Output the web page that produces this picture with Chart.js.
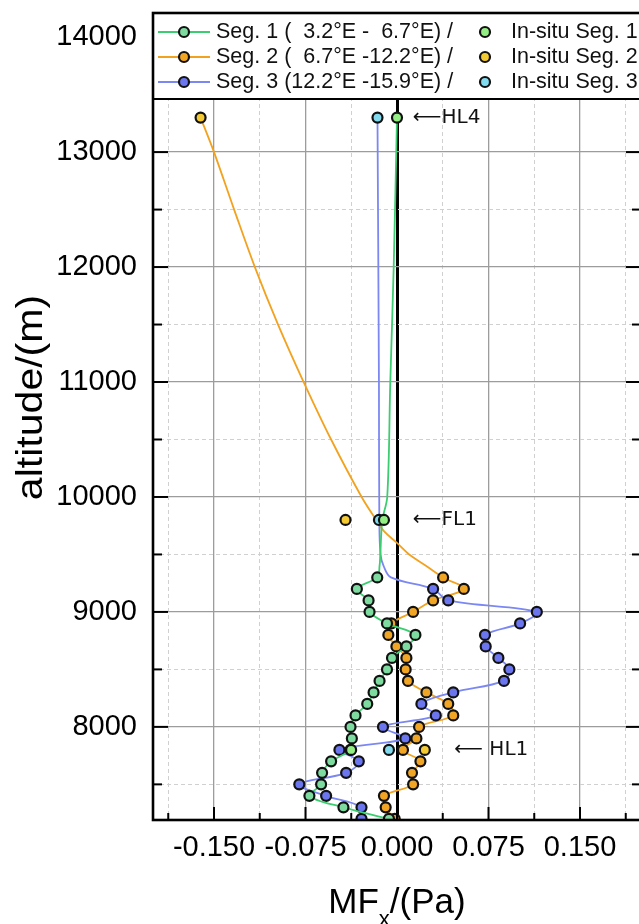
<!DOCTYPE html>
<html><head><meta charset="utf-8">
<script src="https://cdn.jsdelivr.net/npm/chart.js@4.4.1/dist/chart.umd.min.js"></script>
<style>
html,body{margin:0;padding:0;background:#fff;overflow:hidden;width:639px;height:924px}
#wrap{position:absolute;left:0;top:0;width:650px;height:924px}
</style>
</head><body><div id="wrap"><canvas id="c" width="650" height="924"></canvas></div>
<script>
// ---- data ----
const lowAlt = [7200,7300,7400,7500,7600,7700,7800,7900,8000,8100,8200,8300,8400,8500,8600,8700,8800,8900,9000,9100,9200,9300];
const seg1Low = [-0.0066,-0.0439,-0.0718,-0.0622,-0.0614,-0.0540,-0.0381,-0.0370,-0.0381,-0.0340,-0.0244,-0.0192,-0.0143,-0.0082,-0.0041,0.0077,0.0151,-0.0082,-0.0225,-0.0233,-0.0329,-0.0162];
const seg2Low = [-0.0019,-0.0093,-0.0107,0.0132,0.0123,0.0192,0.0049,0.0159,0.0181,0.0461,0.0420,0.0241,0.0090,0.0071,0.0077,-0.0005,-0.0071,-0.0046,0.0132,0.0296,0.0548,0.0378];
const seg3Low = [-0.0291,-0.0291,-0.0581,-0.0801,-0.0417,-0.0313,-0.0472,0.0068,-0.0115,0.0318,0.0200,0.0461,0.0877,0.0921,0.0831,0.0727,0.0721,0.1009,0.1146,0.0420,0.0296];
// upper part of each profile (curve only, no markers)
const seg1UpAlt = [9400,9500,9800,10000,11000,12000,13300];
const seg1Up = [-0.0143,-0.0137,-0.0120,-0.0080,-0.0055,-0.0027,0.0000];
const seg2UpAlt = [9400,9500,9600,9700,9800,10000,10500,11000,11500,12000,12500,13000,13300];
const seg2Up = [0.0240,0.0100,0.0000,-0.0105,-0.0170,-0.0290,-0.0540,-0.0765,-0.0975,-0.1165,-0.1335,-0.1500,-0.1610];
const seg3UpAlt = [9300,9400,9500,9800,11000,13300];
const seg3Up = [-0.0050,-0.0110,-0.0135,-0.0145,-0.0148,-0.0160];
// in-situ values
const insituAlt = [7800,9800,13300];
const insitu1 = [-0.0376,-0.0107,0.0000];
const insitu2 = [0.0228,-0.0422,-0.1610];
const insitu3 = [-0.0066,-0.0148,-0.0160];
// labels
const segLabels = ['Seg. 1 (  3.2\u00B0E -  6.7\u00B0E) /','Seg. 2 (  6.7\u00B0E -12.2\u00B0E) /','Seg. 3 (12.2\u00B0E -15.9\u00B0E) /'];
const insituLabels = ['In-situ Seg. 1','In-situ Seg. 2','In-situ Seg. 3'];
const noteAlt = [13300,9800,7800];
const noteX = [0.013,0.013,0.047];
const noteText = ['\u27F5HL4','\u27F5FL1','\u27F5 HL1'];
const yTitle = 'altitude/(m)';
// ticks
const xTickVals = [-0.1875,-0.15,-0.1125,-0.075,-0.0375,0,0.0375,0.075,0.1125,0.15,0.1875];
const xMajorVals = [-0.15,-0.075,0,0.075,0.15];
const xTickLabels = ['-0.150','-0.075','0.000','0.075','0.150'];
const yTickVals = [7500,8000,8500,9000,9500,10000,10500,11000,11500,12000,12500,13000,13500,14000];
const yMajorVals = [8000,9000,10000,11000,12000,13000,14000];
const yTickLabels = ['8000','9000','10000','11000','12000','13000','14000'];

// ---- helpers ----
const FONT = '"Liberation Sans", Arial, sans-serif';
const PR = 5, PB = 2.2;
const idxOf = (arr, v) => arr.findIndex(m => Math.abs(m - v) < 1e-7);
const pts = (alts, vals, marker) => vals.map((v, i) => ({x: v, y: alts[i], m: marker}));
const profile = (low, upAlt, up) => pts(lowAlt.slice(0, low.length), low, true).concat(pts(upAlt, up, false));

const C = {
  s1Line: '#3ccd70', s1Fill: '#7edba0', i1Fill: '#93ee84',
  s2Line: '#f2a21e', s2Fill: '#f1a525', i2Fill: '#f3c934',
  s3Line: '#7b88f3', s3Fill: '#6a75ee', i3Fill: '#82daee'
};

function segDS(label, data, line, fill) {
  return {
    label, data, borderColor: line, backgroundColor: fill, borderWidth: 1.8,
    pointRadius: c => (c.raw && c.raw.m) ? PR : 0,
    pointBorderWidth: PB, pointBorderColor: '#111', pointBackgroundColor: fill,
    tension: 0.35, clip: 0, fill: false
  };
}
function insituDS(label, vals, fill) {
  return {
    label, data: pts(insituAlt, vals, true), showLine: false, borderColor: '#111', backgroundColor: fill,
    pointRadius: PR, pointBorderWidth: PB, pointBorderColor: '#111', pointBackgroundColor: fill, clip: 0
  };
}

const datasets = [
  insituDS(insituLabels[0], insitu1, C.i1Fill),
  insituDS(insituLabels[1], insitu2, C.i2Fill),
  insituDS(insituLabels[2], insitu3, C.i3Fill),
  segDS(segLabels[0], profile(seg1Low, seg1UpAlt, seg1Up), C.s1Line, C.s1Fill),
  segDS(segLabels[2], profile(seg3Low, seg3UpAlt, seg3Up), C.s3Line, C.s3Fill),
  segDS(segLabels[1], profile(seg2Low, seg2UpAlt, seg2Up), C.s2Line, C.s2Fill)
];

function seg(ctx, x1, y1, x2, y2) { ctx.beginPath(); ctx.moveTo(x1, y1); ctx.lineTo(x2, y2); ctx.stroke(); }
function marker(ctx, x, y, fill) {
  ctx.beginPath(); ctx.arc(x, y, PR, 0, Math.PI * 2); ctx.fillStyle = fill; ctx.fill();
  ctx.lineWidth = PB; ctx.strokeStyle = '#111'; ctx.stroke();
}

const deco = {
  id: 'deco',
  afterDatasetsDraw(chart) {
    const {ctx, chartArea: a, scales: {x, y}} = chart;
    ctx.save();
    // annotations
    ctx.fillStyle = '#111';
    ctx.font = '20px "DejaVu Sans", sans-serif';
    ctx.textBaseline = 'middle'; ctx.textAlign = 'left';
    noteText.forEach((t, i) => ctx.fillText(t, x.getPixelForValue(noteX[i]), y.getPixelForValue(noteAlt[i])));
    // legend box inside plot
    const lb = a.top + 86;
    ctx.fillStyle = '#fff';
    ctx.fillRect(a.left, a.top, a.right - a.left, lb - a.top);
    ctx.strokeStyle = '#000'; ctx.lineWidth = 2;
    seg(ctx, a.left, lb, a.right, lb);
    const segOrder = [3, 5, 4], insOrder = [0, 1, 2];
    ctx.font = '21.5px ' + FONT; ctx.textBaseline = 'middle';
    for (let r = 0; r < 3; r++) {
      const ry = a.top + 19 + r * 25;
      const sd = chart.data.datasets[segOrder[r]];
      ctx.strokeStyle = sd.borderColor; ctx.lineWidth = 1.8;
      seg(ctx, a.left + 5, ry, a.left + 57, ry);
      marker(ctx, a.left + 31, ry, sd.pointBackgroundColor);
      ctx.fillStyle = '#111'; ctx.fillText(segLabels[r], a.left + 63, ry);
      const id = chart.data.datasets[insOrder[r]];
      marker(ctx, a.left + 332, ry, id.pointBackgroundColor);
      ctx.fillStyle = '#111'; ctx.fillText(insituLabels[r], a.left + 358, ry);
    }
    ctx.restore();
  },
  afterDraw(chart) {
    const {ctx, chartArea: a, scales: {x, y}} = chart;
    ctx.save();
    const lb = a.top + 86;
    ctx.strokeStyle = '#000'; ctx.lineWidth = 2;
    xTickVals.forEach(v => {
      const px = x.getPixelForValue(v);
      const len = idxOf(xMajorVals, v) >= 0 ? 13 : 7;
      seg(ctx, px, a.bottom, px, a.bottom - len);
    });
    yTickVals.forEach(v => {
      const py = y.getPixelForValue(v);
      if (py < lb + 2) return;
      const len = idxOf(yMajorVals, v) >= 0 ? 15 : 9;
      seg(ctx, a.left, py, a.left + len, py);
      seg(ctx, a.right, py, a.right - len, py);
    });
    ctx.lineWidth = 2.6;
    ctx.strokeRect(a.left, a.top, a.right - a.left, a.bottom - a.top);
    // x axis title with subscript
    ctx.fillStyle = '#000'; ctx.textBaseline = 'alphabetic'; ctx.textAlign = 'left';
    const big = '35px ' + FONT, small = '22px ' + FONT;
    ctx.font = big; const w1 = ctx.measureText('MF').width, w3 = ctx.measureText('/(Pa)').width;
    ctx.font = small; const w2 = ctx.measureText('x').width;
    const cx = (a.left + a.right) / 2, base = a.bottom + 93;
    let sx = cx - (w1 + w2 + w3) / 2;
    ctx.font = big; ctx.fillText('MF', sx, base);
    ctx.font = small; ctx.fillText('x', sx + w1, base + 13);
    ctx.font = big; ctx.fillText('/(Pa)', sx + w1 + w2, base);
    // y axis title (slightly stretched along its length, as in the reference)
    ctx.translate(42, (a.top + a.bottom) / 2 - 19);
    ctx.rotate(-Math.PI / 2);
    ctx.scale(1.14, 1);
    ctx.font = '36px ' + FONT; ctx.textAlign = 'center';
    ctx.fillText(yTitle, 0, 0);
    ctx.restore();
  }
};

new Chart(document.getElementById('c'), {
  type: 'line',
  data: { datasets },
  plugins: [deco],
  options: {
    indexAxis: 'y',
    responsive: false, animation: false, devicePixelRatio: 1,
    layout: { padding: { left: 0, right: 9, top: 13, bottom: 0 } },
    plugins: { legend: { display: false }, tooltip: { enabled: false } },
    scales: {
      x: {
        type: 'linear', position: 'bottom', min: -0.2, max: 0.2,
        afterBuildTicks: s => { s.ticks = xTickVals.map(v => ({ value: v })); },
        afterFit: s => { s.height = 104; s.paddingLeft = 0; s.paddingRight = 0; },
        ticks: {
          autoSkip: false, maxRotation: 0, minRotation: 0, padding: 11, color: '#000',
          font: { family: FONT, size: 29 },
          callback: v => { const i = idxOf(xMajorVals, v); return i >= 0 ? xTickLabels[i] : ''; }
        },
        grid: {
          drawTicks: false,
          color: c => !c.tick ? '#999' : (Math.abs(c.tick.value) < 1e-9 ? '#000' : (idxOf(xMajorVals, c.tick.value) >= 0 ? '#9c9c9c' : '#d0d0d0')),
          lineWidth: c => !c.tick ? 1 : (Math.abs(c.tick.value) < 1e-9 ? 3 : (idxOf(xMajorVals, c.tick.value) >= 0 ? 1.3 : 1))
        },
        border: { display: false, dash: c => (c.tick && idxOf(xMajorVals, c.tick.value) < 0) ? [4, 3] : [] },
        title: { display: false }
      },
      y: {
        type: 'linear', position: 'left', min: 7190, max: 14210,
        afterBuildTicks: s => { s.ticks = yTickVals.map(v => ({ value: v })); },
        afterFit: s => { s.width = 153; s.paddingTop = 0; s.paddingBottom = 0; },
        ticks: {
          autoSkip: false, padding: 16, color: '#000',
          font: { family: FONT, size: 29 },
          callback: v => { const i = idxOf(yMajorVals, v); return i >= 0 ? yTickLabels[i] : ''; }
        },
        grid: {
          drawTicks: false,
          color: c => !c.tick ? '#999' : (idxOf(yMajorVals, c.tick.value) >= 0 ? '#9c9c9c' : '#d0d0d0'),
          lineWidth: c => !c.tick ? 1 : (idxOf(yMajorVals, c.tick.value) >= 0 ? 1.3 : 1)
        },
        border: { display: false, dash: c => (c.tick && idxOf(yMajorVals, c.tick.value) < 0) ? [4, 3] : [] },
        title: { display: false }
      }
    }
  }
});
</script>
</body></html>
